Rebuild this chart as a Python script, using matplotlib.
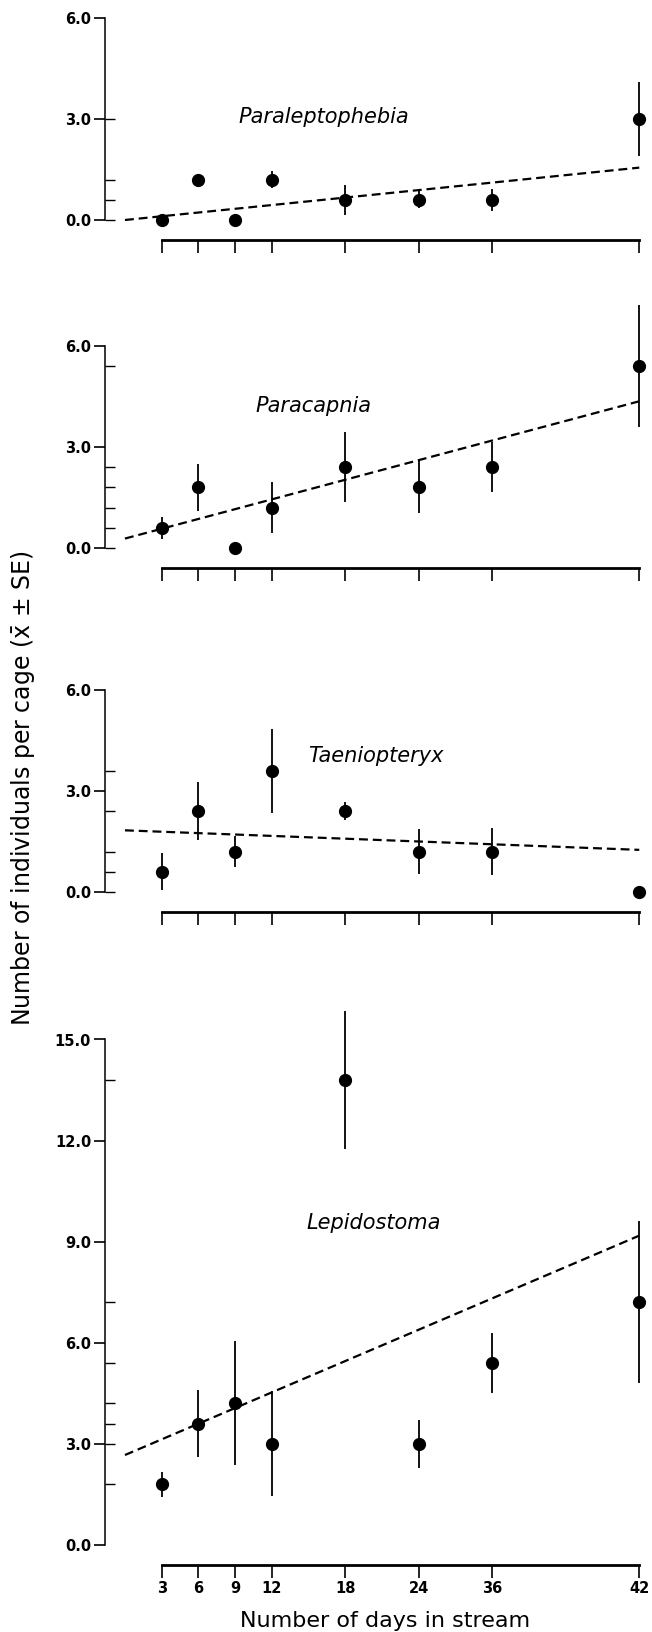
import numpy as np
import matplotlib
matplotlib.use('Agg')
import matplotlib.pyplot as plt

plt.rcParams['font.family'] = ['DejaVu Sans']

# sampling days (the "36" sample sits where day 30 would be on the original axis)
day_labels = ['3', '6', '9', '12', '18', '24', '36', '42']
day_pos = [3, 6, 9, 12, 18, 24, 30, 42]

species = ['Paraleptophebia', 'Paracapnia', 'Taeniopteryx', 'Lepidostoma']

para_mean = [0.0, 1.2, 0.0, 1.2, 0.6, 0.6, 0.6, 3.0]
para_se = [0.0, 0.0, 0.0, 0.25, 0.45, 0.25, 0.33, 1.1]

paracap_mean = [0.6, 1.8, 0.0, 1.2, 2.4, 1.8, 2.4, 5.4]
paracap_se = [0.32, 0.7, 0.0, 0.76, 1.03, 0.77, 0.75, 1.8]

taenio_mean = [0.6, 2.4, 1.2, 3.6, 2.4, 1.2, 1.2, 0.0]
taenio_se = [0.55, 0.87, 0.47, 1.25, 0.26, 0.66, 0.69, 0.0]

lepido_mean = [1.8, 3.6, 4.2, 3.0, 13.8, 3.0, 5.4, 7.2]
lepido_se = [0.38, 1.0, 1.84, 1.56, 2.04, 0.72, 0.9, 2.4]

# fitted regression lines (intercept, slope)
fit_intercept = [0.0, 0.28, 1.83, 2.67]
fit_slope = [0.037, 0.097, -0.0138, 0.155]

means = [para_mean, paracap_mean, taenio_mean, lepido_mean]
ses = [para_se, paracap_se, taenio_se, lepido_se]
y_top_tick = [6.0, 6.0, 6.0, 15.0]
y_max = [6.1, 7.3, 6.1, 16.0]

# species label positions (day, value)
label_xy = [(16.2, 3.06), (15.4, 4.21), (20.5, 4.04), (20.3, 9.55)]

W, H = 652, 1632
fig = plt.figure(figsize=(W / 100, H / 100), dpi=100)

px_per_unit = 33.7
zero_px = [220, 548, 892, 1545]
y_min = -0.58
x_left_px, x_right_px = 105, 646
xlim = (-1.63, 42.55)

for i in range(4):
   bottom_px = zero_px[i] - y_min * px_per_unit
   top_px = zero_px[i] - y_max[i] * px_per_unit
   ax = fig.add_axes([x_left_px / W, 1 - bottom_px / H,
                      (x_right_px - x_left_px) / W, (bottom_px - top_px) / H])
   ax.set_xlim(*xlim)
   ax.set_ylim(y_min, y_max[i])

   x0 = np.array([0, 42])
   ax.plot(x0, fit_intercept[i] + fit_slope[i] * x0, color='black',
           linestyle=(0, (4, 2.2)), lw=1.6, zorder=2)
   ax.errorbar(day_pos, means[i], yerr=ses[i], fmt='o', color='black',
               ms=8.5, elinewidth=1.3, capsize=0, zorder=3)

   ax.text(*label_xy[i], species[i], fontsize=15, style='italic',
           ha='center', va='center')

   for side in ['top', 'right']:
      ax.spines[side].set_visible(False)
   ax.spines['left'].set_bounds(0, y_top_tick[i])
   ax.spines['left'].set_linewidth(1.1)
   ax.spines['bottom'].set_bounds(3, 42)
   ax.spines['bottom'].set_linewidth(2.0)

   ax.set_yticks(np.arange(0, y_top_tick[i] + 0.1, 3.0))
   ax.set_yticklabels(['%.1f' % v for v in np.arange(0, y_top_tick[i] + 0.1, 3.0)],
                      fontsize=10.5, fontweight='bold')
   ax.set_yticks(np.unique(means[i]), minor=True)
   ax.yaxis.remove_overlapping_locs = False
   ax.tick_params(axis='y', which='major', direction='out', length=8, width=1.2, pad=2)
   ax.tick_params(axis='y', which='minor', direction='in', length=7, width=1.0)

   ax.set_xticks(day_pos)
   ax.set_xticklabels(day_labels, fontsize=10.5, fontweight='bold')
   ax.tick_params(axis='x', direction='out', length=9, width=1.2, pad=3,
                  labelbottom=(i == 3))

fig.text(385 / W, 1 - 1621 / H, 'Number of days in stream', fontsize=16,
         ha='center', va='center')
fig.text(23 / W, 1 - 788 / H, r'Number of individuals per cage ($\bar{\mathrm{x}}$ ± SE)',
         fontsize=17, rotation=90, ha='center', va='center')

fig.savefig('out.png', dpi=100)
